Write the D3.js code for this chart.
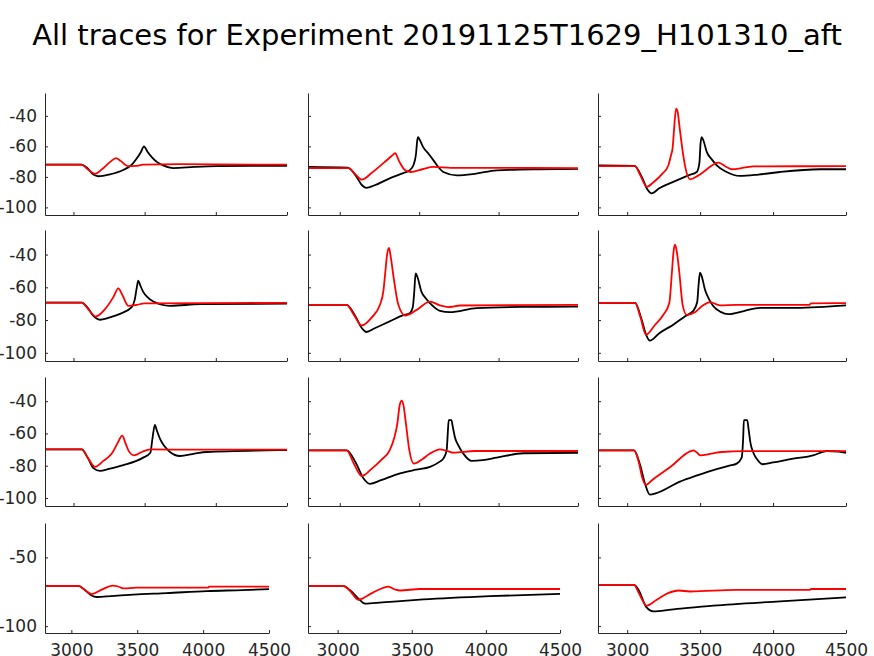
<!DOCTYPE html>
<html>
<head>
<meta charset="utf-8">
<script src="https://cdn.jsdelivr.net/npm/d3@7/dist/d3.min.js"></script>
<style>
  html, body { margin: 0; padding: 0; background: #fff; }
  svg { display: block; font-family: "DejaVu Sans", sans-serif; }
</style>
</head>
<body>
<svg id="chart" width="874" height="656"></svg>
<script>
// ---------------- DATA ----------------
const chartTitle = "All traces for Experiment 20191125T1629_H101310_aft";
const xTicks = [3000, 3500, 4000, 4500];
const yTicksUpper = [-40, -60, -80, -100];
const yTicksLower = [-50, -100];
const xDomain = [2800, 4500];
const yDomain = [-105, -25];

// black traces, panels in row-major order (4 rows x 3 cols): [time, mV]
const black_r1c1 = [[2800,-72],[3055,-72],[3100,-74.5],[3140,-78.5],[3175,-79.6],[3250,-78.5],[3349,-75.5],[3410,-72],[3444,-68],[3475,-63.5],[3495,-60],[3520,-63.5],[3550,-67],[3590,-70.5],[3631,-72.5],[3701,-74.2],[3850,-73.5],[4006,-73],[4250,-72.8],[4500,-72.8]];
const red_r1c1 = [[2800,-72],[3058,-72],[3100,-75],[3151,-78],[3200,-75],[3260,-70],[3299,-67.7],[3330,-69.5],[3385,-73],[3440,-72.8],[3489,-72],[3748,-71.7],[4500,-72]];

const black_r1c2 = [[2800,-73.5],[3050,-74],[3100,-79],[3140,-85.5],[3167,-87.2],[3220,-85.5],[3314,-81],[3400,-77.5],[3440,-75.7],[3465,-72],[3480,-65],[3488,-56],[3493,-54],[3500,-55],[3525,-60.5],[3560,-65],[3589,-69],[3620,-73.5],[3652,-76.8],[3736,-79],[3850,-78],[3988,-75.7],[4250,-75],[4500,-74.8]];
const red_r1c2 = [[2800,-74.2],[3054,-74.2],[3100,-78.5],[3138,-81.8],[3200,-77.5],[3280,-70.5],[3330,-66],[3348,-64.5],[3375,-70],[3410,-75.5],[3447,-76.8],[3520,-75],[3589,-73.5],[3700,-74.1],[4500,-74.2]];

const black_r1c3 = [[2800,-72.5],[3050,-72.8],[3100,-80],[3140,-88.5],[3168,-90.8],[3220,-87.5],[3316,-83.3],[3420,-79],[3477,-76.8],[3495,-71],[3503,-58],[3511,-54],[3522,-56],[3546,-63.8],[3580,-68.5],[3614,-72.5],[3682,-76.8],[3773,-79.4],[3900,-78.5],[4048,-76.8],[4322,-75],[4500,-75]];
const red_r1c3 = [[2800,-72.9],[3054,-72.9],[3090,-79],[3134,-86.5],[3180,-83.5],[3240,-78],[3282,-72.5],[3300,-66],[3312,-60.6],[3322,-48],[3335,-35.3],[3345,-37],[3362,-49.7],[3380,-63],[3396,-72.5],[3431,-81.6],[3480,-79.5],[3522,-76.8],[3580,-72.5],[3625,-70.7],[3680,-73.5],[3717,-75],[3800,-74],[3865,-73.1],[4500,-73]];

const black_r2c1 = [[2800,-69.3],[3058,-69.3],[3100,-72.5],[3140,-77.5],[3186,-79.8],[3250,-78.5],[3327,-76.2],[3409,-72.1],[3430,-67.7],[3445,-60],[3455,-56],[3470,-59],[3489,-62.6],[3520,-66],[3561,-68.7],[3678,-71.3],[3889,-70.3],[4500,-70]];
const red_r2c1 = [[2800,-69.3],[3058,-69.3],[3100,-73],[3158,-77.8],[3220,-73.5],[3280,-66],[3315,-60.6],[3345,-65],[3386,-71.3],[3440,-70.8],[3500,-69.8],[4500,-69.5]];

const black_r2c2 = [[2800,-70.7],[3043,-70.7],[3100,-78],[3140,-85],[3167,-87.3],[3220,-85],[3314,-80.8],[3400,-77],[3440,-75.8],[3460,-72],[3468,-64],[3478,-51.5],[3490,-54],[3514,-62.6],[3540,-66.5],[3568,-69.7],[3631,-74.4],[3694,-75.2],[3862,-72.7],[4156,-72],[4500,-71.8]];
const red_r2c2 = [[2800,-70.7],[3043,-70.7],[3090,-77],[3138,-83.3],[3200,-78.5],[3253,-70.7],[3275,-62],[3285,-52.5],[3298,-40],[3310,-36],[3322,-42],[3337,-52.5],[3369,-70.7],[3411,-77.2],[3484,-73.8],[3568,-68.7],[3630,-71],[3683,-72.1],[3757,-71.1],[4500,-70.7]];

const black_r2c3 = [[2800,-69.5],[3054,-69.5],[3100,-80],[3130,-89],[3156,-92.5],[3220,-88],[3316,-82.8],[3400,-77.5],[3453,-74.4],[3480,-69],[3490,-58],[3499,-51.1],[3510,-53],[3534,-61.6],[3560,-67],[3591,-71.6],[3640,-75],[3694,-76.4],[3800,-74.5],[3911,-72.5],[4162,-72.5],[4500,-71]];
const red_r2c3 = [[2800,-69.5],[3054,-69.5],[3090,-78],[3129,-88.9],[3190,-83],[3248,-76.8],[3289,-69.4],[3307,-50.5],[3318,-38],[3328,-34],[3340,-38],[3357,-50.5],[3381,-71.2],[3408,-76.8],[3465,-75.2],[3520,-71],[3568,-69.1],[3636,-71],[3750,-70.7],[4250,-70.7],[4260,-69.8],[4500,-69.6]];

const black_r3c1 = [[2800,-69.9],[3058,-69.9],[3100,-75],[3140,-81.5],[3186,-83.2],[3250,-82],[3350,-79.7],[3490,-75],[3540,-72],[3555,-63],[3572,-54.7],[3585,-58],[3608,-63.4],[3640,-68],[3678,-71.5],[3748,-74],[3850,-72.5],[3936,-71.5],[4350,-70.5],[4500,-70.3]];
const red_r3c1 = [[2800,-69.9],[3058,-69.9],[3100,-75],[3151,-80.7],[3210,-77],[3269,-72.5],[3310,-66],[3343,-61.4],[3365,-66],[3386,-70.5],[3425,-73.6],[3480,-71.5],[3538,-69.9],[3700,-70],[4500,-70]];

const black_r3c2 = [[2800,-70.5],[3043,-70.5],[3100,-78],[3150,-88],[3190,-91.3],[3260,-89],[3379,-84.8],[3480,-82.5],[3568,-80.7],[3630,-77.5],[3652,-75.6],[3673,-70.5],[3680,-60],[3686,-51.8],[3703,-51.8],[3712,-56],[3725,-62.4],[3750,-68],[3778,-72.5],[3831,-77],[3900,-76.5],[3988,-75],[4156,-72.3],[4500,-72]];
const red_r3c2 = [[2800,-70.5],[3043,-70.5],[3090,-79],[3138,-86.4],[3200,-82],[3260,-76.5],[3314,-70.5],[3345,-62],[3362,-54.2],[3378,-42],[3390,-39.6],[3400,-42],[3417,-54.2],[3438,-70.5],[3467,-78.7],[3520,-76],[3568,-72.5],[3631,-69.9],[3680,-71],[3715,-71.9],[3851,-70.9],[4500,-70.9]];

const black_r3c3 = [[2800,-70.5],[3047,-70.5],[3090,-80],[3125,-92],[3156,-98],[3200,-97],[3362,-89.9],[3480,-86],[3591,-82.7],[3700,-80],[3751,-78.7],[3785,-75],[3795,-63],[3800,-51.8],[3823,-51.8],[3833,-58],[3846,-66.3],[3865,-72],[3887,-75.6],[3928,-79.1],[4000,-78],[4138,-75.6],[4275,-73.6],[4340,-71.5],[4367,-70.9],[4450,-71.2],[4500,-72.1]];
const red_r3c3 = [[2800,-70.5],[3047,-70.5],[3080,-78],[3105,-88],[3129,-91.9],[3170,-89],[3300,-80.5],[3431,-71.1],[3454,-70.5],[3480,-72],[3499,-73.6],[3579,-72.5],[3648,-71.5],[3800,-71],[4500,-71]];

const black_r4c1 = [[2800,-70.7],[3053,-70.7],[3100,-73.5],[3150,-77.5],[3192,-78.8],[3300,-78.2],[3471,-77.1],[3723,-76],[4027,-74.5],[4300,-73.8],[4500,-73.1]];
const red_r4c1 = [[2800,-70.7],[3053,-70.7],[3100,-73.5],[3154,-76.7],[3230,-73.5],[3313,-70.5],[3350,-71],[3394,-72.6],[3496,-72],[4040,-72],[4045,-71.2],[4500,-71.2]];

const black_r4c2 = [[2800,-70.7],[3038,-70.7],[3080,-73.5],[3140,-80],[3185,-83.7],[3300,-82.8],[3578,-80.6],[4028,-78.2],[4500,-76.5]];
const red_r4c2 = [[2800,-70.7],[3038,-70.7],[3080,-74],[3139,-80.8],[3240,-75.5],[3342,-71.2],[3390,-73.5],[3421,-74.1],[3556,-73],[4500,-73]];

const black_r4c3 = [[2800,-70],[3047,-70],[3080,-74],[3130,-86],[3179,-89.2],[3300,-88],[3591,-85.1],[4048,-82],[4500,-79.1]];
const red_r4c3 = [[2800,-70],[3047,-70],[3080,-76],[3134,-85.1],[3200,-81],[3280,-76],[3351,-74.1],[3431,-74.8],[3751,-73.6],[4253,-73.6],[4260,-73],[4500,-73]];

const blackTraces = [black_r1c1, black_r1c2, black_r1c3, black_r2c1, black_r2c2, black_r2c3,
                     black_r3c1, black_r3c2, black_r3c3, black_r4c1, black_r4c2, black_r4c3];
const redTraces = [red_r1c1, red_r1c2, red_r1c3, red_r2c1, red_r2c2, red_r2c3,
                   red_r3c1, red_r3c2, red_r3c3, red_r4c1, red_r4c2, red_r4c3];

// ---------------- LAYOUT ----------------
const rowTops = [93, 230, 377, 523];
const rowBottoms = [215, 361, 506, 633];
const colLefts = [45, 308, 598];
const colRightsUpper = [287, 578, 846];
const colRightsLower = [269, 560, 846];
const axisColor = "#262626";

const svg = d3.select("#chart");

svg.append("text")
  .attr("x", 437).attr("y", 45)
  .attr("text-anchor", "middle")
  .attr("font-size", 29)
  .attr("fill", "#000")
  .text(chartTitle);

for (let r = 0; r < 4; r++) {
  for (let c = 0; c < 3; c++) {
    const idx = r * 3 + c;
    const left = colLefts[c];
    const right = (r === 3 ? colRightsLower : colRightsUpper)[c];
    const x = d3.scaleLinear().domain(xDomain).range([left, right]);
    const y = d3.scaleLinear().domain(yDomain).range([rowBottoms[r], rowTops[r]]);
    const g = svg.append("g");

    const line = d3.line()
      .x(d => x(d[0])).y(d => y(d[1]))
      .curve(d3.curveMonotoneX);

    g.append("path").datum(blackTraces[idx])
      .attr("fill", "none").attr("stroke", "#000").attr("stroke-width", 1.8)
      .attr("stroke-linejoin", "round").attr("d", line);
    g.append("path").datum(redTraces[idx])
      .attr("fill", "none").attr("stroke", "#ff0000").attr("stroke-width", 1.8)
      .attr("stroke-linejoin", "round").attr("d", line);

    const yTicks = r === 3 ? yTicksLower : yTicksUpper;
    const yAxis = d3.axisLeft(y).tickValues(yTicks).tickSize(-3).tickSizeOuter(0).tickPadding(8)
      .tickFormat(c === 0 ? (d => d3.format("d")(d).replace("−", "-")) : () => "");
    const ya = g.append("g").attr("transform", `translate(${left},0)`).call(yAxis);

    const xAxis = d3.axisBottom(x).tickValues(xTicks).tickSize(-3).tickSizeOuter(0).tickPadding(11)
      .tickFormat(r === 3 ? d3.format("d") : () => "");
    const xa = g.append("g").attr("transform", `translate(0,${rowBottoms[r]})`).call(xAxis);

    [ya, xa].forEach(a => {
      a.select(".domain").attr("stroke", axisColor).attr("stroke-width", 1);
      a.selectAll(".tick line").attr("stroke", axisColor);
      a.selectAll(".tick text").attr("fill", axisColor).attr("font-size", 17)
        .attr("font-family", "DejaVu Sans, sans-serif");
    });
  }
}
</script>
</body>
</html>
